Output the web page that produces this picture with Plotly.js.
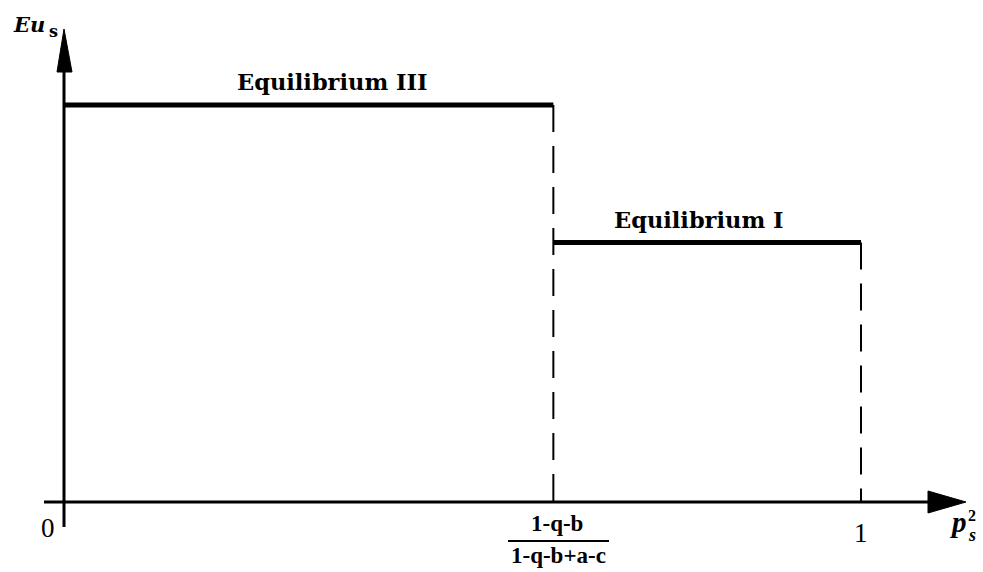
<!DOCTYPE html>
<html>
<head>
<meta charset="utf-8">
<script src="https://cdn.plot.ly/plotly-3.0.1.min.js"></script>
<style>
  html, body { margin: 0; padding: 0; background: #ffffff; }
  #chart { width: 983px; height: 572px; }
</style>
</head>
<body>
<div id="chart"></div>
<script>
// Expected payoff Eu_s as a step function of p_s^2
const breakpoints = [0, 0.614, 1];          // 0, (1-q-b)/(1-q-b+a-c), 1
const levels = [1.53, 1.0];                 // Eu_s on each interval
const regimeNames = ['Equilibrium III', 'Equilibrium I'];
const tickNumerator = '1-q-b';
const tickDenominator = '1-q-b+a-c';
const tickEnds = ['0', '1'];

// ---- canvas geometry ----
const W = 983, H = 572;
const X0PX = 64, X1PX = 861;     // pixel columns of p = 0 and p = 1
const Y0PX = 502, YUNIT = 259.5; // pixel row of Eu = 0, pixels per unit
const px = v => v / W;
const py = v => 1 - v / H;

const times = 'Liberation Serif';
const slab = 'DejaVu Serif';
const ink = '#000000';

// ---- traces: horizontal payoff levels and dashed drop lines ----
const traces = [];
levels.forEach((lv, i) => {
  traces.push({
    type: 'scatter', mode: 'lines',
    x: [breakpoints[i], breakpoints[i + 1]],
    y: [lv, lv],
    line: { color: ink, width: 5 },
    hoverinfo: 'skip'
  });
  traces.push({
    type: 'scatter', mode: 'lines',
    x: [breakpoints[i + 1], breakpoints[i + 1]],
    y: [lv, 0],
    line: { color: ink, width: 2, dash: '27px,14px' },
    hoverinfo: 'skip'
  });
});

// ---- axes drawn as arrows ----
const shapes = [
  { type: 'line', xref: 'paper', yref: 'paper',
    x0: px(X0PX), y0: py(527), x1: px(X0PX), y1: py(60),
    line: { color: ink, width: 3 } },
  { type: 'line', xref: 'paper', yref: 'paper',
    x0: px(44), y0: py(Y0PX), x1: px(935), y1: py(Y0PX),
    line: { color: ink, width: 3 } },
  { type: 'path', xref: 'paper', yref: 'paper',
    path: `M${px(X0PX)},${py(29)} L${px(72)},${py(72)} L${px(57)},${py(72)} Z`,
    fillcolor: ink, line: { color: ink, width: 1 } },
  { type: 'path', xref: 'paper', yref: 'paper',
    path: `M${px(966)},${py(Y0PX)} L${px(928)},${py(491)} L${px(928)},${py(513)} Z`,
    fillcolor: ink, line: { color: ink, width: 1 } },
  // fraction bar under the breakpoint label
  { type: 'line', xref: 'paper', yref: 'paper',
    x0: px(508), y0: py(541), x1: px(609), y1: py(541),
    line: { color: ink, width: 2 } }
];

// ---- text ----
const labelX = [0.3375, 0.797];
const annotations = [];
const note = (o) => annotations.push(Object.assign({ showarrow: false, xanchor: 'center', yanchor: 'middle' }, o));

regimeNames.forEach((name, i) => {
  note({
    xref: 'x', yref: 'y', x: labelX[i], y: levels[i], yshift: 23,
    text: name,
    font: { family: slab, size: 22.5, weight: 'bold', color: ink }
  });
});

note({ xref: 'x', yref: 'paper', x: breakpoints[0], y: py(527.5), xshift: -16,
  text: tickEnds[0], font: { family: times, size: 27, color: ink } });
note({ xref: 'x', yref: 'paper', x: breakpoints[2], y: py(532.5),
  text: tickEnds[1], font: { family: times, size: 27, color: ink } });
note({ xref: 'x', yref: 'paper', x: breakpoints[1], y: py(523.5), xshift: 4,
  text: tickNumerator, font: { family: times, size: 23, weight: 'bold', color: ink } });
note({ xref: 'x', yref: 'paper', x: breakpoints[1], y: py(555.5), xshift: 5,
  text: tickDenominator, font: { family: times, size: 23, weight: 'bold', color: ink } });

// axis titles
note({ xref: 'paper', yref: 'paper', x: px(29), y: py(24),
  text: 'Eu', font: { family: slab, size: 21, weight: 'bold', style: 'italic', color: ink } });
note({ xref: 'paper', yref: 'paper', x: px(53), y: py(32),
  text: 's', font: { family: slab, size: 16, weight: 'bold', color: ink } });
note({ xref: 'paper', yref: 'paper', x: px(958), y: py(522),
  text: 'p', font: { family: times, size: 29, weight: 'bold', style: 'italic', color: ink } });
note({ xref: 'paper', yref: 'paper', x: px(972), y: py(535),
  text: 's', font: { family: times, size: 18, weight: 'bold', style: 'italic', color: ink } });
note({ xref: 'paper', yref: 'paper', x: px(972), y: py(515),
  text: '2', font: { family: times, size: 16, weight: 'bold', color: ink } });

const layout = {
  width: W, height: H,
  margin: { l: 0, r: 0, t: 0, b: 0, pad: 0 },
  paper_bgcolor: '#ffffff', plot_bgcolor: '#ffffff',
  showlegend: false, hovermode: false,
  xaxis: { visible: false, fixedrange: true,
           range: [-X0PX / (X1PX - X0PX), (W - X0PX) / (X1PX - X0PX)] },
  yaxis: { visible: false, fixedrange: true,
           range: [-(H - Y0PX) / YUNIT, Y0PX / YUNIT] },
  shapes: shapes,
  annotations: annotations
};

Plotly.newPlot('chart', traces, layout, { staticPlot: true, displayModeBar: false });
</script>
</body>
</html>
